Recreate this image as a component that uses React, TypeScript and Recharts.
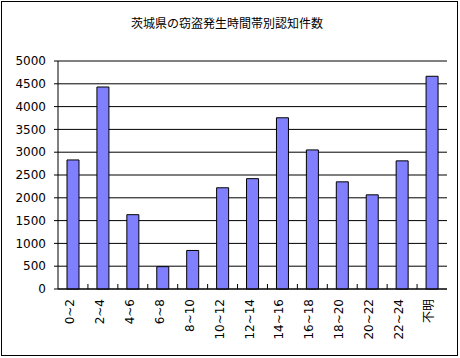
import React from 'react';
import { BarChart, Bar, XAxis, YAxis, CartesianGrid } from 'recharts';

const hours = ['0~2', '2~4', '4~6', '6~8', '8~10', '10~12', '12~14', '14~16', '16~18', '18~20', '20~22', '22~24', '不明'];
const counts = [2830, 4430, 1630, 490, 845, 2220, 2420, 3755, 3050, 2350, 2065, 2810, 4665];
const yTicks = [0, 500, 1000, 1500, 2000, 2500, 3000, 3500, 4000, 4500, 5000];

const data = hours.map((h, i) => ({ hour: h, count: counts[i] }));

const W = 460;
const H = 358;
const margin = { top: 61, right: 13, bottom: 0, left: 0 };
const Y_W = 58;
const band = (W - margin.left - margin.right - Y_W) / hours.length;
const font = '"DejaVu Sans", "Noto Sans CJK JP", sans-serif';

const HourTick = (props: any) => {
  const { x, y, payload, index } = props;
  return (
    <g>
      {index < hours.length - 1 && (
        <line x1={x + band / 2} x2={x + band / 2} y1={y - 10} y2={y - 15} stroke="#000" />
      )}
      <text
        x={x}
        y={y}
        transform={`rotate(-90, ${x}, ${y})`}
        textAnchor="end"
        dy={1}
        fontSize={12}
        fontFamily={font}
        fill="#000"
      >
        {payload.value}
      </text>
    </g>
  );
};

export default function App() {
  return (
    <div style={{ position: 'absolute', left: 0, top: 0, width: W, height: H, background: '#fff' }}>
      <div
        style={{
          position: 'absolute', left: 1, top: 1, width: 457, height: 355,
          border: '1px solid #000', boxSizing: 'border-box',
        }}
      />
      <div
        style={{
          position: 'absolute', left: 0, top: 14, width: W - 6, textAlign: 'center',
          fontSize: 12, fontFamily: '"Noto Sans CJK JP", sans-serif', color: '#000',
        }}
      >
        茨城県の窃盗発生時間帯別認知件数
      </div>
      <div style={{ position: 'absolute', left: 0, top: 0 }}>
        <BarChart width={W} height={H} data={data} margin={margin}>
          <CartesianGrid vertical={false} stroke="#000" strokeDasharray="" />
          <XAxis
            dataKey="hour"
            interval={0}
            height={69}
            tickLine={false}
            tickSize={0}
            tickMargin={10}
            axisLine={{ stroke: '#000' }}
            tick={<HourTick />}
          />
          <XAxis xAxisId="top" orientation="top" dataKey="hour" height={0} tick={false} tickLine={false} axisLine={{ stroke: '#888' }} />
          <YAxis
            domain={[0, 5000]}
            ticks={yTicks}
            interval={0}
            width={Y_W}
            tickSize={4}
            tickMargin={8}
            axisLine={{ stroke: '#000' }}
            tickLine={{ stroke: '#000' }}
            tick={{ fill: '#000', fontSize: 12, fontFamily: font }}
          />
          <YAxis yAxisId="right" orientation="right" width={0} tick={false} tickLine={false} axisLine={{ stroke: '#888' }} />
          <Bar dataKey="count" fill="#8080FF" stroke="#000" strokeWidth={1} barSize={12} isAnimationActive={false} />
        </BarChart>
      </div>
    </div>
  );
}
